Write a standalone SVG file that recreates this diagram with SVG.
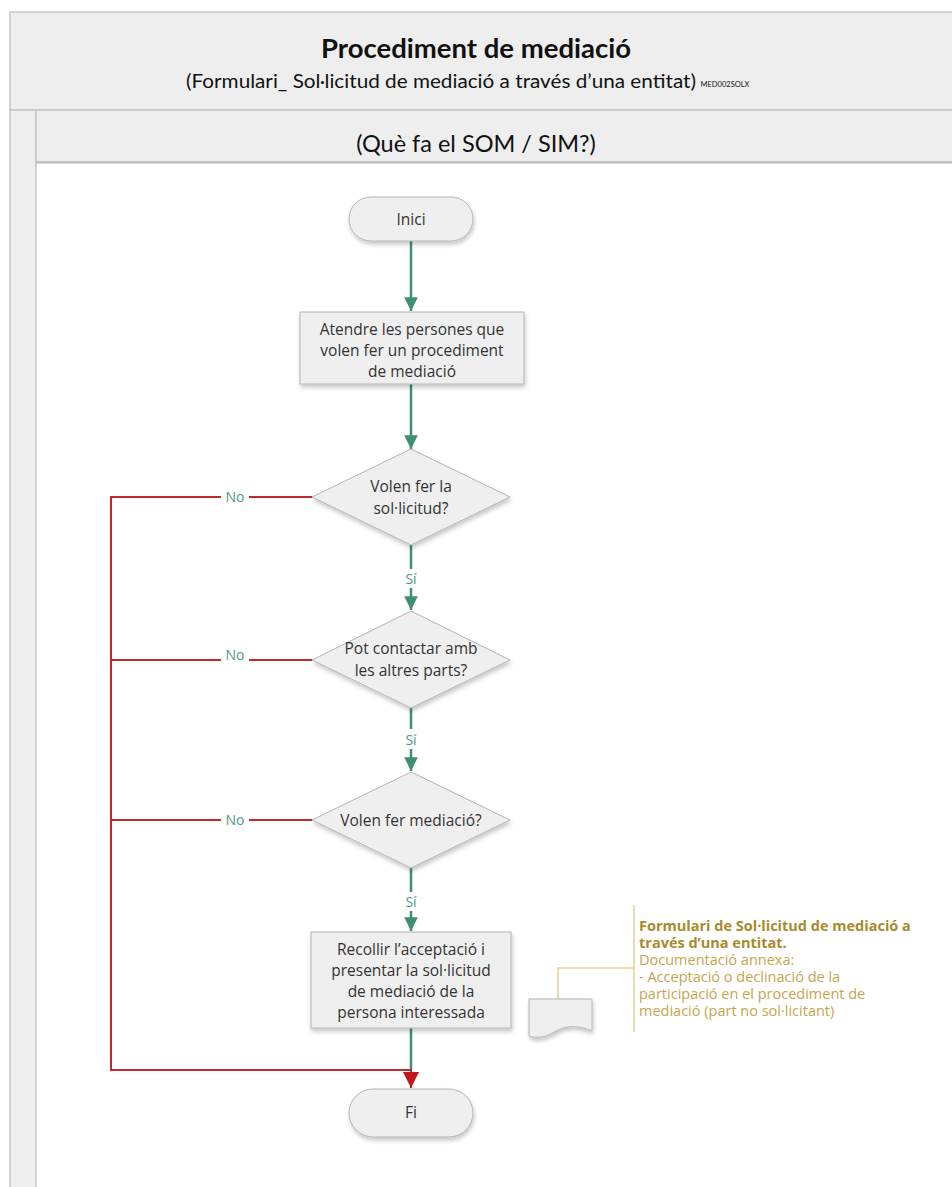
<svg xmlns="http://www.w3.org/2000/svg" width="952" height="1187" viewBox="0 0 952 1187">
<defs>
<style>
.frame{fill:#eeeeee;stroke:#c6c6c6;stroke-width:1.5}
.node{fill:#efefef;stroke:#b4b4b4;stroke-width:1;filter:url(#sh)}
.nt{font-family:"Open Sans","Noto Sans",sans-serif;font-size:15.5px;fill:#333333;text-anchor:middle}
.hd{font-family:Lato,"Liberation Sans",sans-serif;fill:#111111;text-anchor:middle}
.g{stroke:#3f8f75;stroke-width:2.5;fill:none}
.r{stroke:#c02a2e;stroke-width:2;fill:none}
.lbl{font-family:"Open Sans","Noto Sans",sans-serif;font-size:14px;fill:#4f9a84;text-anchor:middle}
.ann{font-family:"Open Sans","Noto Sans",sans-serif;font-size:14.5px;fill:#c6a550}
.annb{font-family:"Open Sans","Noto Sans",sans-serif;font-size:14.5px;font-weight:bold;fill:#a98a2c}
.gold{stroke:#e3d197;stroke-width:1.5;fill:none}
</style>
<filter id="sh" x="-20%" y="-20%" width="140%" height="150%">
<feDropShadow dx="1" dy="3" stdDeviation="2" flood-color="#000000" flood-opacity="0.22"/>
</filter>
<marker id="ag" viewBox="0 0 10 10" refX="10" refY="5" markerWidth="5.5" markerHeight="5.5" orient="auto" markerUnits="strokeWidth">
<path d="M0,0 L10,5 L0,10 Z" fill="#3f8f75"/>
</marker>
<marker id="ar" viewBox="0 0 10 10" refX="10" refY="5" markerWidth="8" markerHeight="8" orient="auto" markerUnits="strokeWidth">
<path d="M0,0 L10,5 L0,10 Z" fill="#c0161c"/>
</marker>
</defs>
<rect width="952" height="1187" fill="#ffffff"/>

<g id="frame">
<rect class="frame" x="10" y="12" width="960" height="98"/>
<rect class="frame" x="10" y="110" width="26" height="1090"/>
<rect class="frame" x="36" y="110" width="930" height="52"/>
<line x1="36" y1="162.5" x2="952" y2="162.5" stroke="#bdbdbd" stroke-width="2"/>
<text class="hd" x="476" y="58" font-size="27.5" font-weight="bold">Procediment de mediació</text>
<text class="hd" x="441" y="88" font-size="19.5" textLength="510" lengthAdjust="spacingAndGlyphs">(Formulari_ Sol·licitud de mediació a través d’una entitat)</text>
<text class="hd" x="725" y="87" font-size="7.5">MED002SOLX</text>
<text class="hd" x="476" y="152" font-size="23.5">(Què fa el SOM / SIM?)</text>
</g>

<g id="connectors">
<line class="g" x1="411" y1="241" x2="411" y2="311" marker-end="url(#ag)"/>
<line class="g" x1="411" y1="384" x2="411" y2="449" marker-end="url(#ag)"/>
<line class="g" x1="411" y1="545" x2="411" y2="569"/>
<line class="g" x1="411" y1="588" x2="411" y2="610" marker-end="url(#ag)"/>
<line class="g" x1="411" y1="708" x2="411" y2="729"/>
<line class="g" x1="411" y1="749" x2="411" y2="771" marker-end="url(#ag)"/>
<line class="g" x1="411" y1="868" x2="411" y2="892"/>
<line class="g" x1="411" y1="911" x2="411" y2="931" marker-end="url(#ag)"/>
<line class="g" x1="411" y1="1028" x2="411" y2="1070"/>
<path class="r" d="M312,497 H111 V1070 H411 V1088" marker-end="url(#ar)"/>
<path class="r" d="M312,660 H111"/>
<path class="r" d="M312,820 H111"/>
<rect x="221" y="487" width="28" height="20" fill="#ffffff"/>
<rect x="221" y="650" width="28" height="20" fill="#ffffff"/>
<rect x="221" y="810" width="28" height="20" fill="#ffffff"/>
<text class="lbl" x="235" y="502">No</text>
<text class="lbl" x="235" y="660">No</text>
<text class="lbl" x="235" y="825">No</text>
<text class="lbl" x="411" y="584">Sí</text>
<text class="lbl" x="411" y="745">Sí</text>
<text class="lbl" x="411" y="907">Sí</text>
<path class="gold" d="M558,999 V968 H634"/>
<line class="gold" x1="634" y1="905" x2="634" y2="1032"/>
</g>

<g id="inici">
<rect class="node" x="349" y="197" width="124" height="44" rx="22"/>
<text class="nt" x="411" y="225">Inici</text>
</g>

<g id="atendre">
<rect class="node" x="300" y="312" width="224" height="72"/>
<text class="nt" x="412" y="335">Atendre les persones que</text>
<text class="nt" x="412" y="356">volen fer un procediment</text>
<text class="nt" x="412" y="377">de mediació</text>
</g>

<g id="d1">
<polygon class="node" points="411,449 510,497 411,545 312,497"/>
<text class="nt" x="411" y="492">Volen fer la</text>
<text class="nt" x="411" y="514">sol·licitud?</text>
</g>

<g id="d2">
<polygon class="node" points="411,611 510,660 411,708 312,660"/>
<text class="nt" x="411" y="654">Pot contactar amb</text>
<text class="nt" x="411" y="676">les altres parts?</text>
</g>

<g id="d3">
<polygon class="node" points="411,772 510,820 411,868 312,820"/>
<text class="nt" x="411" y="826">Volen fer mediació?</text>
</g>

<g id="recollir">
<rect class="node" x="311" y="932" width="200" height="96"/>
<text class="nt" x="411" y="955">Recollir l’acceptació i</text>
<text class="nt" x="411" y="976">presentar la sol·licitud</text>
<text class="nt" x="411" y="997">de mediació de la</text>
<text class="nt" x="411" y="1018">persona interessada</text>
</g>

<g id="fi">
<rect class="node" x="349" y="1089" width="124" height="48" rx="24"/>
<text class="nt" x="411" y="1118">Fi</text>
</g>

<g id="document">
<path class="node" d="M529,999 H592 V1031 C580,1026 568,1025 558,1030 C547,1037 538,1039 529,1036 Z"/>
</g>

<g id="annotation">
<text class="annb" x="639" y="931">Formulari de Sol·licitud de mediació a</text>
<text class="annb" x="639" y="948">través d’una entitat.</text>
<text class="ann" x="639" y="965">Documentació annexa:</text>
<text class="ann" x="639" y="982">- Acceptació o declinació de la</text>
<text class="ann" x="639" y="999">participació en el procediment de</text>
<text class="ann" x="639" y="1016">mediació (part no sol·licitant)</text>
</g>
</svg>
